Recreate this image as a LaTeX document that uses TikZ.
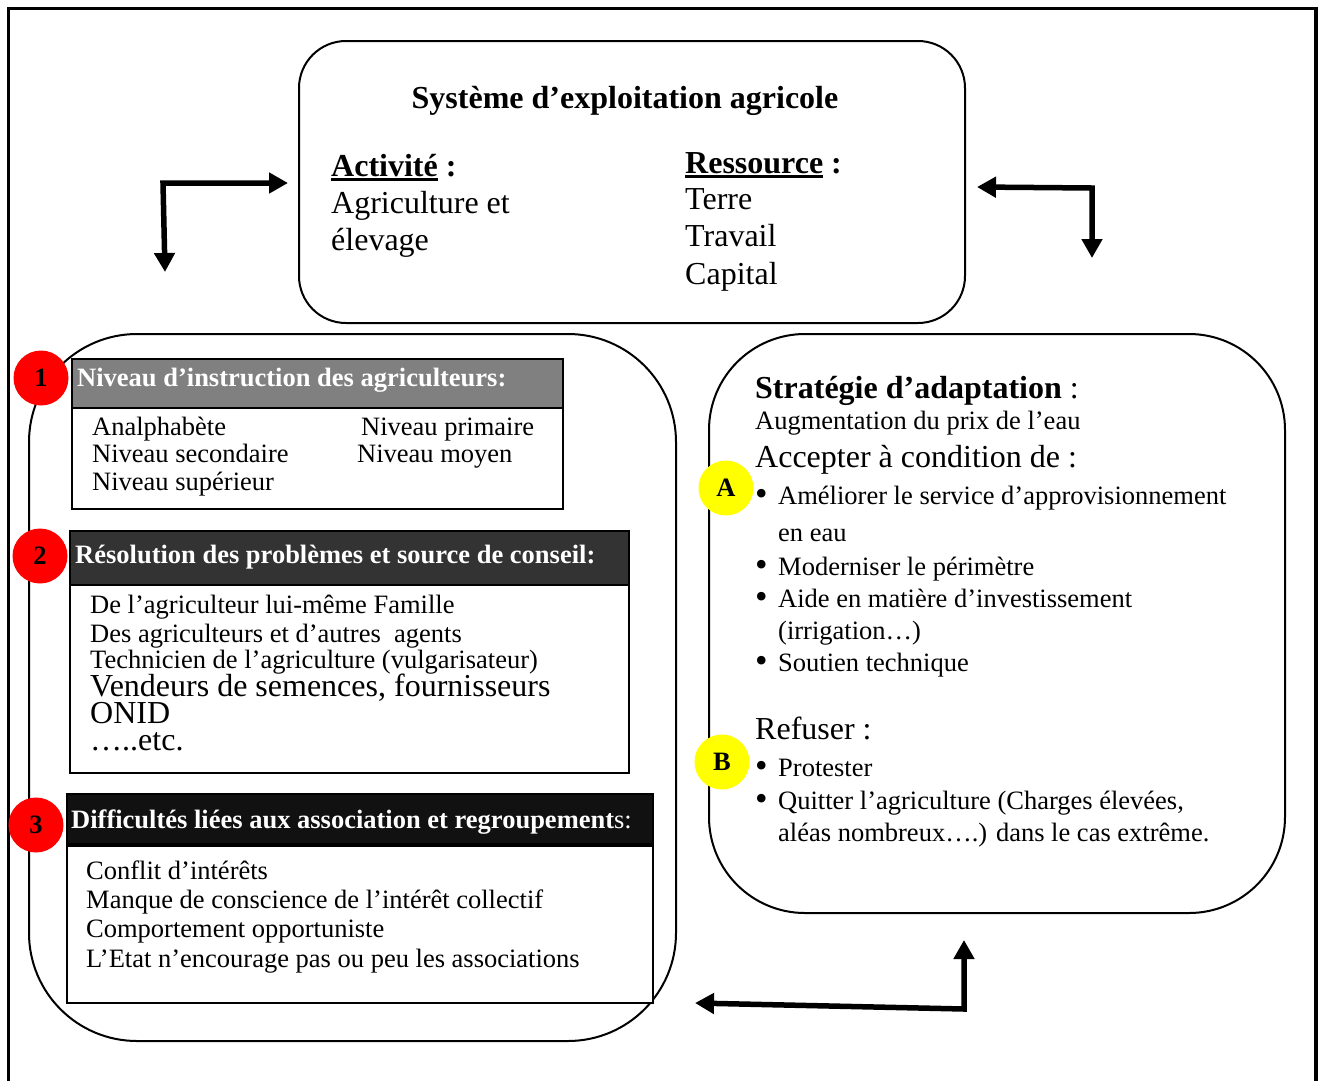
\documentclass[tikz,border=0pt]{standalone}
\usepackage{fontspec}
\setmainfont{Liberation Serif}
\usetikzlibrary{arrows.meta}
\definecolor{hdrgray}{RGB}{128,128,128}
\definecolor{hdrdark}{RGB}{51,51,51}
\definecolor{hdrblack}{RGB}{17,17,17}
\definecolor{badgered}{RGB}{255,0,0}
\definecolor{badgeyellow}{RGB}{255,255,0}
\newcommand\szS{\fontsize{26.5}{30}\selectfont}
\newcommand\szL{\fontsize{32}{37}\selectfont}
% thick underline for the two section words
\newcommand\ulword[1]{\setbox0\hbox{#1}\rlap{\rule[-4.5pt]{\wd0}{2.8pt}}\box0\relax}
% list bullet, a little heavier than the text bullet
\newcommand\bul{\makebox[23pt][l]{\raisebox{-1.5pt}{\scalebox{1.35}{•}}}}

\begin{document}
\begin{tikzpicture}[x=1pt,y=-1pt,
  frameline/.style={line width=3.5pt},
  roundbox/.style={draw, line width=2pt, inner sep=0pt, anchor=north west},
  panel/.style={draw, line width=2pt, inner sep=0pt, anchor=north west, fill=white},
  txt/.style={anchor=base west, inner sep=0pt, font=\szS},
  txtL/.style={anchor=base west, inner sep=0pt, font=\szL},
  hdrtxt/.style={anchor=base west, inner sep=0pt, font=\szS\bfseries, text=white},
  badge/.style={circle, minimum size=55pt, inner sep=0pt, font=\szS\bfseries},
  elbow/.style={line width=5.5pt, line join=miter,
    {Triangle[length=19pt,width=20pt]}-{Triangle[length=19pt,width=20pt]}}
]
\useasboundingbox (0,0) rectangle (1323,1080);

% outer frame (open at the bottom of the page)
\draw[frameline] (8.5,1090) -- (8.5,8.5) -- (1316,8.5) -- (1316,1090);

% main rounded boxes
\node[roundbox, rounded corners=47pt, minimum width=666pt, minimum height=282pt] (sys) at (298,40) {};
\node[roundbox, rounded corners=108pt, minimum width=647pt, minimum height=707pt] (fact) at (28,333) {};
\node[roundbox, rounded corners=96pt, minimum width=576pt, minimum height=579pt] (strat) at (708,333) {};

% system box text
\node[anchor=base, inner sep=0pt, font=\szL\bfseries] (title) at (625,108) {Système d’exploitation agricole};
\node[txtL, font=\szL\bfseries] (act) at (331,176) {\ulword{Activité} :};
\node[txtL] (act1) at (331,213) {Agriculture et};
\node[txtL] (act2) at (331,250) {élevage};
\node[txtL, font=\szL\bfseries] (res) at (685,173) {\ulword{Ressource} :};
\node[txtL] (res1) at (685,209) {Terre};
\node[txtL] (res2) at (685,246) {Travail};
\node[txtL] (res3) at (685,284) {Capital};

% panel 1
\node[panel, fill=hdrgray, minimum width=491pt, minimum height=49pt] (h1) at (71,358) {};
\node[panel, minimum width=491pt, minimum height=101pt] (b1) at (71,407) {};
\node[hdrtxt] (h1t) at (77,386) {Niveau d’instruction des agriculteurs:};
\node[txt] (b1a) at (92,435) {Analphabète};
\node[txt] (b1b) at (92,462) {Niveau secondaire};
\node[txt] (b1c) at (92,490) {Niveau supérieur};
\node[txt] (b1d) at (361,435) {Niveau primaire};
\node[txt] (b1e) at (357,462) {Niveau moyen};

% panel 2
\node[panel, fill=hdrdark, minimum width=559pt, minimum height=54pt] (h2) at (69,530) {};
\node[panel, minimum width=559pt, minimum height=188pt] (b2) at (69,584) {};
\node[hdrtxt] (h2t) at (75,563) {Résolution des problèmes et source de conseil:};
\node[txt] (b2a) at (90,613) {De l’agriculteur lui-même Famille};
\node[txt] (b2b) at (90,642) {Des agriculteurs et d’autres\ \ agents};
\node[txt] (b2c) at (90,668) {Technicien de l’agriculture (vulgarisateur)};
\node[txtL] (b2d) at (90,696) {Vendeurs de semences, fournisseurs};
\node[txtL] (b2e) at (90,723) {ONID};
\node[txtL] (b2f) at (90,750) {…..etc.};

% panel 3
\node[panel, fill=hdrblack, minimum width=586pt, minimum height=50pt] (h3) at (66,793) {};
\node[panel, minimum width=586pt, minimum height=157pt] (b3) at (66,845) {};
\node[hdrtxt] (h3t) at (71,828) {Difficultés liées aux association et regroupement\mdseries s:};
\node[txt] (b3a) at (86,879) {Conflit d’intérêts};
\node[txt] (b3b) at (86,908) {Manque de conscience de l’intérêt collectif};
\node[txt] (b3c) at (86,937) {Comportement opportuniste};
\node[txt] (b3d) at (86,967) {L’Etat n’encourage pas ou peu les associations};

% strategy box text
\node[txtL] (st) at (755,398) {\bfseries Stratégie d’adaptation\mdseries\ :};
\node[txt] (st1) at (755,429) {Augmentation du prix de l’eau};
\node[txtL] (acc) at (755,467) {Accepter à condition de :};
\node[txt] (acc1) at (755,504) {\bul Améliorer le service d’approvisionnement};
\node[txt] (acc1b) at (778,541) {en eau};
\node[txt] (acc2) at (755,575) {\bul Moderniser le périmètre};
\node[txt] (acc3) at (755,607) {\bul Aide en matière d’investissement};
\node[txt] (acc3b) at (778,639) {(irrigation…)};
\node[txt] (acc4) at (755,671) {\bul Soutien technique};
\node[txtL] (ref) at (755,739) {Refuser :};
\node[txt] (ref1) at (755,776) {\bul Protester};
\node[txt] (ref2) at (755,809) {\bul Quitter l’agriculture (Charges élevées,};
\node[txt] (ref2b) at (778,841) {aléas nombreux….) dans le cas extrême.};

% badges
\node[badge, fill=badgered] (n1) at (41,378) {1};
\node[badge, fill=badgered] (n2) at (40,556) {2};
\node[badge, fill=badgered] (n3) at (36,825) {3};
\node[badge, fill=badgeyellow] (nA) at (726,488) {A};
\node[badge, fill=badgeyellow] (nB) at (722,762) {B};

% elbow arrows linking the boxes
\coordinate (a1c) at (163,183);
\coordinate (a1r) at (288,183);
\coordinate (a1d) at (165,272);
\draw[elbow] (a1d) -- (a1c) -- (a1r);
\coordinate (a2c) at (1092,188);
\coordinate (a2l) at (977,187);
\coordinate (a2d) at (1092,258);
\draw[elbow] (a2l) -- (a2c) -- (a2d);
\coordinate (a3c) at (964,1009);
\coordinate (a3u) at (964,940);
\coordinate (a3l) at (695,1003);
\draw[elbow] (a3l) -- (a3c) -- (a3u);
\end{tikzpicture}
\end{document}
